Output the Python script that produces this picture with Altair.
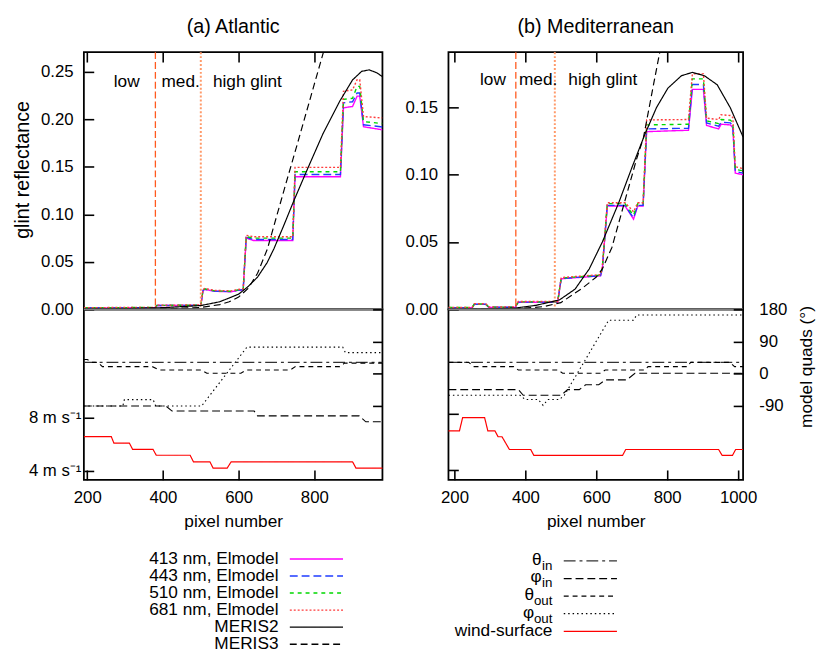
import altair as alt
import pandas as pd

FONT = "Liberation Sans"

# ---------------- series names / styles ----------------
SERIES = ["413 nm, Elmodel", "443 nm, Elmodel", "510 nm, Elmodel", "681 nm, Elmodel",
          "MERIS2", "MERIS3", "θin", "φin", "θout", "φout", "wind-surface"]
COLORS = ["#ff00ff", "#1f3cff", "#00d800", "#ff3b3b", "#000000", "#000000",
          "#333333", "#000000", "#000000", "#000000", "#ff0000"]
DASHES = [[1, 0], [8, 4], [4, 4], [2, 2], [1, 0], [7, 4],
          [12, 4, 3, 4], [8, 4], [5, 4], [1.5, 3], [1, 0]]
REGION_LABELS = ["low", "med.", "high glint"]

# ---------------- (a) Atlantic ----------------
A_TITLE = "(a) Atlantic"
A_X_DOMAIN = [191, 980]
A_X_TICKS = [200, 400, 600, 800]
A_Y_DOMAIN = [0, 0.2707]
A_Y_TICKS = [0.0, 0.05, 0.10, 0.15, 0.20, 0.25]
A_GLINT_X = [191, 380, 384, 500, 506, 511, 537, 580, 599, 612, 620, 639, 743, 749,
             869, 877, 901, 913, 920, 930, 980]
A_413 = [0.0015, 0.0018, 0.0040, 0.0042, 0.0200, 0.0210, 0.0190, 0.0185, 0.0200, 0.0205,
         0.0750, 0.0725, 0.0725, 0.1396, 0.1396, 0.2122, 0.2135, 0.2244, 0.2244, 0.1922, 0.1890]
A_443 = [0.0016, 0.0019, 0.0041, 0.0043, 0.0202, 0.0212, 0.0192, 0.0187, 0.0202, 0.0207,
         0.0757, 0.0735, 0.0735, 0.1420, 0.1420, 0.2174, 0.2185, 0.2278, 0.2278, 0.1943, 0.1920]
A_510 = [0.0017, 0.0020, 0.0042, 0.0044, 0.0205, 0.0215, 0.0195, 0.0190, 0.0205, 0.0210,
         0.0765, 0.0750, 0.0750, 0.1448, 0.1448, 0.2210, 0.2222, 0.2347, 0.2347, 0.1977, 0.1955]
A_681 = [0.0018, 0.0021, 0.0044, 0.0046, 0.0210, 0.0220, 0.0200, 0.0195, 0.0210, 0.0215,
         0.0780, 0.0765, 0.0765, 0.1494, 0.1494, 0.2296, 0.2310, 0.2417, 0.2417, 0.2029, 0.2015]
A_MERIS2_X = [191, 300, 400, 500, 550, 600, 625, 650, 675, 693, 720, 745, 780, 823, 867,
              901, 925, 945, 965, 980]
A_MERIS2 = [0.0003, 0.0008, 0.0018, 0.0040, 0.0080, 0.0160, 0.0240, 0.0340, 0.0490, 0.0636,
            0.0890, 0.1135, 0.1460, 0.1850, 0.2190, 0.2415, 0.2505, 0.2521, 0.2490, 0.2450]
A_MERIS3_X = [191, 400, 500, 550, 575, 600, 625, 650, 676, 700, 725, 750, 775, 800, 825, 850]
A_MERIS3 = [0.0, 0.0005, 0.0020, 0.0050, 0.0080, 0.0130, 0.0220, 0.0380, 0.0636, 0.0975,
            0.1325, 0.1670, 0.2020, 0.2370, 0.2720, 0.3070]
A_REGION_BOUNDS = [380, 500]
A_REGION_LABEL_X = [270, 396, 532]
A_REGION_LABEL_Y = 0.2396
A_WIND_DOMAIN = [3.34, 16.09]
A_WIND_X = [191, 263.5, 270.3, 311.2, 319.8, 373.7, 382.3, 471.8, 480.5, 524, 532.5, 569.8,
            580.2, 901, 910, 980]
A_WIND = [6.57, 6.57, 6.09, 6.09, 5.62, 5.62, 5.18, 5.18, 4.69, 4.69, 4.22, 4.22, 4.69, 4.69,
          4.22, 4.22]
A_THETA_IN_X = [191, 980]
A_THETA_IN = [32, 32]
A_THETA_OUT_X = [191, 200, 212, 228, 240, 372, 391, 502, 516, 606, 620, 736, 750, 867, 880, 980]
A_THETA_OUT = [40, 40, 32, 32, 20, 20, 10.7, 10.7, 1.6, 1.6, 10.7, 10.7, 20, 20, 30, 30]
A_PHI_IN_X = [191, 408, 424, 641, 650, 919, 936, 980]
A_PHI_IN = [-90, -90, -104, -104, -117.5, -117.5, -134, -134]
A_PHI_OUT_X = [191, 294, 298, 374, 381, 502, 622, 875, 882, 980]
A_PHI_OUT = [-90, -90, -72, -72, -90, -90, 74.6, 74.6, 59.3, 59.3]

# ---------------- (b) Mediterranean ----------------
B_TITLE = "(b) Mediterranean"
B_X_DOMAIN = [183, 1014]
B_X_TICKS = [200, 400, 600, 800, 1000]
B_Y_DOMAIN = [0, 0.191]
B_Y_TICKS = [0.0, 0.05, 0.10, 0.15]
B_GLINT_X = [183, 250, 256, 288, 297, 371, 380, 491, 501, 612, 617, 631, 681, 693, 705, 717,
             732, 742, 860, 871, 902, 911, 945, 952, 978, 985, 992, 1014]
B_413 = [0.0012, 0.0012, 0.0037, 0.0037, 0.0015, 0.0015, 0.0053, 0.0053, 0.0227, 0.0249,
         0.0300, 0.0768, 0.0768, 0.0720, 0.0670, 0.0768, 0.0768, 0.1320, 0.1330, 0.1634,
         0.1634, 0.1366, 0.1340, 0.1375, 0.1370, 0.1350, 0.1012, 0.1000]
B_443 = [0.0013, 0.0013, 0.0038, 0.0038, 0.0016, 0.0016, 0.0054, 0.0054, 0.0229, 0.0251,
         0.0305, 0.0772, 0.0772, 0.0725, 0.0680, 0.0772, 0.0772, 0.1340, 0.1345, 0.1670,
         0.1670, 0.1385, 0.1360, 0.1390, 0.1385, 0.1365, 0.1025, 0.1012]
B_510 = [0.0014, 0.0014, 0.0040, 0.0040, 0.0017, 0.0017, 0.0056, 0.0056, 0.0232, 0.0254,
         0.0310, 0.0785, 0.0785, 0.0740, 0.0700, 0.0785, 0.0785, 0.1370, 0.1375, 0.1712,
         0.1712, 0.1400, 0.1380, 0.1410, 0.1405, 0.1390, 0.1040, 0.1028]
B_681 = [0.0015, 0.0015, 0.0042, 0.0042, 0.0018, 0.0018, 0.0058, 0.0058, 0.0236, 0.0258,
         0.0315, 0.0792, 0.0792, 0.0760, 0.0725, 0.0792, 0.0792, 0.1407, 0.1410, 0.1749,
         0.1749, 0.1420, 0.1410, 0.1445, 0.1440, 0.1425, 0.1060, 0.1045]
B_MERIS2_X = [183, 300, 371, 430, 496, 540, 580, 617, 663, 700, 737, 770, 802, 840, 871, 905,
              941, 978, 1014]
B_MERIS2 = [0.0, 0.0003, 0.0010, 0.0030, 0.0070, 0.0150, 0.0300, 0.0500, 0.0790, 0.1050,
            0.1300, 0.1500, 0.1643, 0.1735, 0.1760, 0.1735, 0.1668, 0.1497, 0.1280]
B_MERIS3_X = [183, 371, 450, 500, 561, 600, 617, 644, 680, 714, 733, 760, 779, 800]
B_MERIS3 = [0.0, 0.0003, 0.0020, 0.0050, 0.0158, 0.0240, 0.0300, 0.0460, 0.0800, 0.1120,
            0.1275, 0.1650, 0.1910, 0.2200]
B_REGION_BOUNDS = [373, 483]
B_REGION_LABEL_X = [272, 382, 521]
B_REGION_LABEL_Y = 0.170
B_WIND_DOMAIN = [3.31, 15.34]
B_WIND_X = [183, 214, 223, 285, 294, 314, 323, 334, 355, 415, 424, 674, 683, 945, 955, 984,
            993, 1014]
B_WIND = [6.77, 6.77, 7.70, 7.70, 6.77, 6.77, 6.35, 6.35, 5.45, 5.45, 5.03, 5.03, 5.45, 5.45,
          5.03, 5.03, 5.45, 5.45]
B_THETA_IN_X = [183, 1014]
B_THETA_IN = [32, 32]
B_THETA_OUT_X = [183, 240, 255, 367, 380, 492, 505, 612, 625, 737, 746, 857, 866, 977, 990, 1014]
B_THETA_OUT = [32, 32, 20, 20, 10.7, 10.7, 1.6, 1.6, 10.7, 10.7, 20, 20, 32, 32, 20, 20]
B_PHI_IN_X = [183, 380, 394, 501, 519, 552, 570, 607, 626, 686, 709, 1014]
B_PHI_IN = [-44.2, -44.2, -59.8, -59.8, -44.2, -44.2, -30.5, -30.5, -16.8, -16.8, 1.6, 1.6]
B_PHI_OUT_X = [183, 385, 399, 436, 450, 464, 496, 510, 635, 705, 714, 1014]
B_PHI_OUT = [-59.8, -59.8, -71.6, -71.6, -88, -71.6, -71.6, -59.8, 149.8, 149.8, 164.4, 164.4]

ANGLE_DOMAIN = [-296, 180]
ANGLE_TICKS = [-90, 0, 90, 180]
WIND_TICKS = [4, 8]

# ---------------- layout constants ----------------
TICK = 10
H_TOP = 261
H_BOT = 173
W_A = 303
W_B = 299
GAP = 67
LABEL_SIZE = 17
TEXT_SIZE = 17.5

color_enc = alt.Color("series:N", scale=alt.Scale(domain=SERIES, range=COLORS), legend=None)
dash_enc = alt.StrokeDash("series:N", scale=alt.Scale(domain=SERIES, range=DASHES), legend=None)


def series_frame(entries):
    frames = [pd.DataFrame({"x": xs, "y": ys, "series": name, "i": list(range(len(xs)))})
              for name, xs, ys in entries]
    return pd.concat(frames, ignore_index=True)


def top_panel(title, xdom, xticks, ydom, yticks, glint_df, meris_df, bounds, lab_x, lab_y,
              y_title, width):
    xs = alt.Scale(domain=xdom, nice=False, zero=False)
    ys = alt.Scale(domain=ydom, nice=False, zero=False)
    x_axis = alt.Axis(orient="top", values=xticks, labels=False, tickSize=TICK,
                      offset=-TICK, title=None, zindex=1)
    y_kw = dict(orient="left", values=yticks, format=".2f", tickSize=TICK, offset=-TICK,
                labelPadding=11, zindex=1)
    if y_title:
        y_axis = alt.Axis(title=y_title, titleFontSize=20, titlePadding=8, titleY=119, **y_kw)
    else:
        y_axis = alt.Axis(title=None, **y_kw)
    X = alt.X("x:Q", scale=xs, axis=x_axis)
    Y = alt.Y("y:Q", scale=ys, axis=y_axis)
    glint = alt.Chart(glint_df).mark_line(strokeWidth=1.4, clip=True).encode(
        x=X, y=Y, color=color_enc, strokeDash=dash_enc, order="i:Q")
    r1 = alt.Chart(pd.DataFrame({"x": [bounds[0]]})).mark_rule(
        color="#ff5a1f", strokeDash=[7, 3], strokeWidth=1.3).encode(x=X)
    r2 = alt.Chart(pd.DataFrame({"x": [bounds[1]]})).mark_rule(
        color="#ff9a6a", strokeDash=[2, 2], strokeWidth=2).encode(x=X)
    meris = alt.Chart(meris_df).mark_line(strokeWidth=1.2, clip=True).encode(
        x=X, y=Y, color=color_enc, strokeDash=dash_enc, order="i:Q")
    labels = alt.Chart(pd.DataFrame({"x": lab_x, "y": [lab_y] * len(lab_x),
                                     "label": REGION_LABELS})).mark_text(
        align="left", baseline="middle", fontSize=TEXT_SIZE, font=FONT, color="black").encode(
        x=X, y=Y, text="label:N")
    return alt.layer(glint, r1, r2, meris, labels).properties(
        width=width, height=H_TOP,
        title=alt.TitleParams(title, fontSize=20, font=FONT, fontWeight="normal",
                              anchor="middle", offset=14, color="black"))


def bottom_panel(xdom, xticks, ang_df, wind_df, wind_dom, show_wind_labels,
                 show_angle_labels, width):
    xs = alt.Scale(domain=xdom, nice=False, zero=False)
    ang_s = alt.Scale(domain=ANGLE_DOMAIN, nice=False, zero=False)
    wind_s = alt.Scale(domain=wind_dom, nice=False, zero=False)
    x_axis = alt.Axis(orient="bottom", values=xticks, format="d", tickSize=TICK,
                      offset=-TICK, labelPadding=10, title="pixel number",
                      titleFontSize=TEXT_SIZE, titlePadding=7, zindex=1)
    if show_angle_labels:
        ang_axis = alt.Axis(orient="right", values=ANGLE_TICKS, tickSize=TICK, offset=-TICK,
                            labelPadding=16, labelExpr="'' + datum.value",
                            title="model quads (°)", titleAngle=270,
                            titleBaseline="top", titleAlign="center", titleY=58,
                            titlePadding=11, titleFontSize=TEXT_SIZE, zindex=1)
    else:
        ang_axis = alt.Axis(orient="right", values=ANGLE_TICKS, tickSize=TICK, offset=-TICK,
                            labels=False, title=None, zindex=1)
    if show_wind_labels:
        wind_axis = alt.Axis(orient="left", values=WIND_TICKS, tickSize=TICK, offset=-TICK,
                             labelPadding=3,
                             labelExpr="datum.value + ' m s\u207b\u00b9'",
                             title=None, zindex=1)
    else:
        wind_axis = alt.Axis(orient="left", values=WIND_TICKS, tickSize=TICK, offset=-TICK,
                             labels=False, title=None, zindex=1)
    X = alt.X("x:Q", scale=xs, axis=x_axis)
    ang = alt.Chart(ang_df).mark_line(strokeWidth=1.1).encode(
        x=X, y=alt.Y("y:Q", scale=ang_s, axis=ang_axis),
        color=color_enc, strokeDash=dash_enc, order="i:Q")
    zero = alt.Chart(pd.DataFrame({"y": [ANGLE_DOMAIN[1]]})).mark_rule(
        color="#808080", strokeWidth=2).encode(y=alt.Y("y:Q", scale=ang_s, axis=None))
    wind = alt.Chart(wind_df).mark_line(strokeWidth=1.2).encode(
        x=X, y=alt.Y("y:Q", scale=wind_s, axis=wind_axis),
        color=color_enc, strokeDash=dash_enc, order="i:Q")
    return alt.layer(ang, zero, wind).resolve_scale(y="independent").properties(
        width=width, height=H_BOT)


a_glint = series_frame([(SERIES[0], A_GLINT_X, A_413), (SERIES[1], A_GLINT_X, A_443),
                        (SERIES[2], A_GLINT_X, A_510), (SERIES[3], A_GLINT_X, A_681)])
a_meris = series_frame([(SERIES[4], A_MERIS2_X, A_MERIS2), (SERIES[5], A_MERIS3_X, A_MERIS3)])
a_ang = series_frame([(SERIES[6], A_THETA_IN_X, A_THETA_IN), (SERIES[7], A_PHI_IN_X, A_PHI_IN),
                      (SERIES[8], A_THETA_OUT_X, A_THETA_OUT), (SERIES[9], A_PHI_OUT_X, A_PHI_OUT)])
a_wind = series_frame([(SERIES[10], A_WIND_X, A_WIND)])

b_glint = series_frame([(SERIES[0], B_GLINT_X, B_413), (SERIES[1], B_GLINT_X, B_443),
                        (SERIES[2], B_GLINT_X, B_510), (SERIES[3], B_GLINT_X, B_681)])
b_meris = series_frame([(SERIES[4], B_MERIS2_X, B_MERIS2), (SERIES[5], B_MERIS3_X, B_MERIS3)])
b_ang = series_frame([(SERIES[6], B_THETA_IN_X, B_THETA_IN), (SERIES[7], B_PHI_IN_X, B_PHI_IN),
                      (SERIES[8], B_THETA_OUT_X, B_THETA_OUT), (SERIES[9], B_PHI_OUT_X, B_PHI_OUT)])
b_wind = series_frame([(SERIES[10], B_WIND_X, B_WIND)])

top_a = top_panel(A_TITLE, A_X_DOMAIN, A_X_TICKS, A_Y_DOMAIN, A_Y_TICKS, a_glint, a_meris,
                  A_REGION_BOUNDS, A_REGION_LABEL_X, A_REGION_LABEL_Y, "glint reflectance", W_A)
top_b = top_panel(B_TITLE, B_X_DOMAIN, B_X_TICKS, B_Y_DOMAIN, B_Y_TICKS, b_glint, b_meris,
                  B_REGION_BOUNDS, B_REGION_LABEL_X, B_REGION_LABEL_Y, None, W_B)
bot_a = bottom_panel(A_X_DOMAIN, A_X_TICKS, a_ang, a_wind, A_WIND_DOMAIN, True, False, W_A)
bot_b = bottom_panel(B_X_DOMAIN, B_X_TICKS, b_ang, b_wind, B_WIND_DOMAIN, False, True, W_B)

# ---------------- legends (custom, labels left of swatches) ----------------
LEG_GAP = 68
LEG_H = LEG_GAP + 110
ROW_PX = 17.3
FIRST_ROW_PX = LEG_GAP + 12.3
leg_y = alt.Scale(domain=[-FIRST_ROW_PX / ROW_PX, (LEG_H - FIRST_ROW_PX) / ROW_PX],
                  reverse=True, nice=False, zero=False)
left_names = SERIES[:6]
right_names = SERIES[6:]
left_df = pd.DataFrame({"series": left_names, "row": list(range(len(left_names)))})
right_rows = [2.0 / ROW_PX + k * 17.85 / ROW_PX for k in range(len(right_names))]
right_df = pd.DataFrame({"series": right_names, "row": right_rows})
right_df["base"] = [n[0] if n != "wind-surface" else n for n in right_names]
right_df["sub"] = [n[1:] if n != "wind-surface" else "" for n in right_names]

LEFT_TEXT_END = 197.5
LEFT_SW = (209, 263)
RIGHT_TEXT_END = 105.5
RIGHT_SW = (117, 171)

yenc = alt.Y("row:Q", scale=leg_y, axis=None)
leg_a = alt.layer(
    alt.Chart(left_df).mark_rule(strokeWidth=1.4).encode(
        x=alt.value(LEFT_SW[0]), x2=alt.value(LEFT_SW[1]), y=yenc,
        color=color_enc, strokeDash=dash_enc),
    alt.Chart(left_df).mark_text(align="right", baseline="middle", fontSize=TEXT_SIZE,
                                 font=FONT, color="black").encode(
        x=alt.value(LEFT_TEXT_END), y=yenc, text="series:N"),
).properties(width=W_A, height=LEG_H, view=alt.ViewBackground(stroke=None))

leg_b = alt.layer(
    alt.Chart(right_df).mark_rule(strokeWidth=1.3).encode(
        x=alt.value(RIGHT_SW[0]), x2=alt.value(RIGHT_SW[1]), y=yenc,
        color=color_enc, strokeDash=dash_enc),
    alt.Chart(right_df).transform_filter("datum.sub == 'in'").mark_text(
        align="right", baseline="middle", fontSize=TEXT_SIZE, font=FONT, color="black",
        dy=-1).encode(x=alt.value(RIGHT_TEXT_END - 11), y=yenc, text="base:N"),
    alt.Chart(right_df).transform_filter("datum.sub == 'out'").mark_text(
        align="right", baseline="middle", fontSize=TEXT_SIZE, font=FONT, color="black",
        dy=-1).encode(x=alt.value(RIGHT_TEXT_END - 18.5), y=yenc, text="base:N"),
    alt.Chart(right_df).transform_filter("datum.sub == ''").mark_text(
        align="right", baseline="middle", fontSize=TEXT_SIZE, font=FONT, color="black").encode(
        x=alt.value(RIGHT_TEXT_END), y=yenc, text="base:N"),
    alt.Chart(right_df).transform_filter("datum.sub != ''").mark_text(
        align="right", baseline="middle", fontSize=13.5, font=FONT, color="black",
        dy=5).encode(x=alt.value(RIGHT_TEXT_END), y=yenc, text="sub:N"),
).properties(width=W_B, height=LEG_H, view=alt.ViewBackground(stroke=None))

chart = alt.concat(top_a, top_b, bot_a, bot_b, leg_a, leg_b, columns=2,
                   spacing={"row": 0, "column": GAP}, bounds="flush", align="none").properties(
    padding={"left": 4, "top": 4, "right": 0, "bottom": 0}
).configure(font=FONT).configure_view(
    stroke="black", strokeWidth=1.8
).configure_axis(
    labelFont=FONT, titleFont=FONT, labelFontSize=LABEL_SIZE, titleFontSize=TEXT_SIZE,
    titleFontWeight="normal", labelColor="black", titleColor="black",
    tickColor="black", tickWidth=1.6, grid=False, domain=False
)

chart.save("out.html", embed_options={"renderer": "svg", "actions": False})
